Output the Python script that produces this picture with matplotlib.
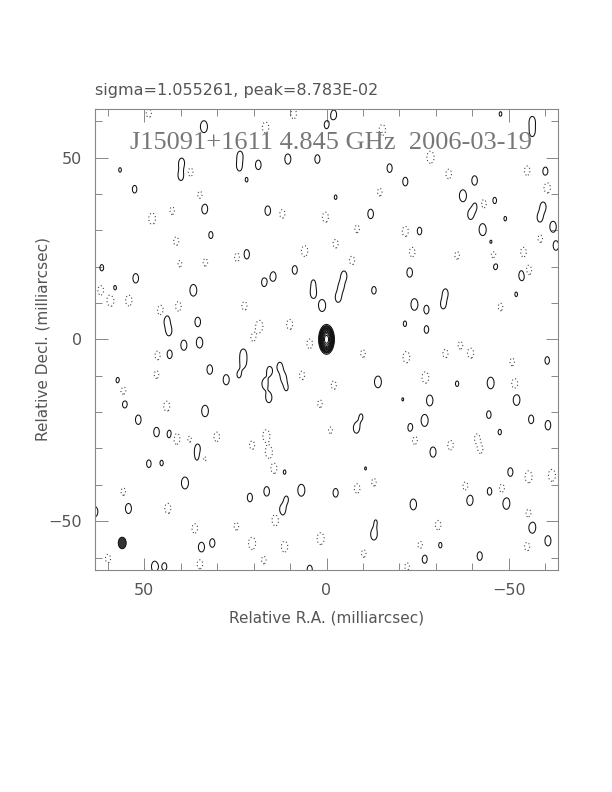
import numpy as np
import matplotlib
matplotlib.use("Agg")
import matplotlib.pyplot as plt
from matplotlib.patches import Ellipse
from matplotlib.ticker import MultipleLocator

# map header values
sigma_txt = "sigma=1.055261, peak=8.783E-02"
source_txt = "J15091+1611 4.845 GHz  2006-03-19"
peak = 87.83          # core peak (contour units)
levels_pos = [1, 2, 2.83, 4, 5.66, 8, 11.3, 16, 22.6, 32, 45.3, 64]
levels_neg = [-1]

# beam (mas): centre, full width / height
beam_xy = (56.0, -56.0)
beam_w, beam_h = 2.2, 3.2

# positive noise blobs (RA mas, Dec mas, relative amplitude)
pos_x = [33.6, 0.0, 23.7, 23.9, 18.7, 10.6, 2.5, 39.7, 39.9, 56.6, 21.9, 52.6, 33.4, 16.1, 31.7,
         21.9, 8.7, 14.6, 17.1, 3.6, 3.6, 1.2, 52.3, 61.6, 58.0, 36.5, 43.8, 43.2, 35.3, 39.1, 34.8,
         -2.0, -56.4, -56.4, -17.3, -21.6, -40.6, -60.0, -37.4, -40.8, -46.1, -39.5,
         -12.1, -59.4, -58.5, -62.1, -62.9, -42.8, -25.5, -22.8, -46.3, -53.6, -4.8, -4.0, -3.2,
         -13.0, -24.1, -27.4, -32.6, -32.0, -21.5, -27.4, -52.0, -49.0, -2.5, -47.7, -45.1,
         43.0, 22.8, 22.8, 15.6, 12.8, 11.8, 32.0, 27.5, 24.0, 16.9, 15.8, 11.0, 57.2, 55.3, 33.3,
         51.6, 46.6, 43.0, 35.4, 32.7, 35.4, 48.7, 45.2, 38.8, 11.5, 16.4, 21.0, 6.9, 11.0, 12.1,
         54.3, 63.5, 31.3, 34.3, 47.1, 44.4, 4.6,
         -14.1, -35.8, -45.0, -52.1, -60.5, -28.3, -20.9, -26.9, -44.5, -56.1, -60.7, -47.5, -9.5,
         -8.2, -23.0, -29.2, -10.7, -50.4, -2.5, -23.8, -39.3, -44.7, -49.3, -56.4, -60.7, -13.0,
         -31.2, -26.9, -42.0, -13.5]
pos_y = [58.5, 59.0, 50.5, 47.5, 48.0, 49.6, 49.6, 48.5, 45.0, 46.6, 43.9, 41.3, 35.9, 35.4, 28.7,
         23.4, 19.1, 17.3, 15.7, 15.6, 12.6, 9.3, 16.8, 19.7, 14.1, 13.5, 5.3, 2.3, 4.8, -1.6, -0.9,
         61.8, 60.0, 57.0, 47.1, 43.4, 43.7, 46.2, 39.5, 36.6, 38.2, 34.3,
         34.5, 36.5, 33.5, 31.0, 25.8, 30.2, 29.8, 18.4, 20.3, 17.6, 17.5, 14.5, 11.5,
         13.5, 9.6, 8.2, 12.7, 9.6, 4.3, 2.7, 12.4, 33.2, 39.1, 62.0, 26.7,
         -4.1, -4.0, -6.5, -8.7, -7.5, -10.5, -8.3, -11.1, -9.7, -12.2, -16.0, -13.4, -11.3, -17.7, -19.7,
         -22.1, -25.5, -26.1, -29.9, -30.2, -32.5, -34.2, -34.0, -39.5, -36.5, -41.8, -43.5, -41.5, -44.0, -47.0,
         -46.5, -47.4, -56.0, -57.2, -62.5, -62.5, -63.3,
         -11.7, -12.2, -12.0, -16.6, -5.8, -16.8, -16.5, -22.3, -20.7, -22.0, -23.6, -25.5, -21.3,
         -24.4, -24.3, -31.0, -35.5, -36.5, -42.2, -45.4, -44.2, -41.8, -45.1, -51.7, -55.4, -53.7,
         -56.6, -60.4, -59.6, -50.2]
pos_a = [1.9, 1.3, 1.45, 1.35, 1.5, 1.6, 1.4, 1.55, 1.5, 1.1, 1.1, 1.3, 1.6, 1.5, 1.25,
         1.5, 1.4, 1.5, 1.4, 1.1, 1.5, 1.9, 1.5, 1.2, 1.15, 1.85, 1.5, 1.5, 1.5, 1.6, 1.7,
         1.5, 1.5, 1.4, 1.4, 1.4, 1.5, 1.4, 1.9, 1.2, 1.2, 1.5,
         1.5, 1.5, 1.45, 1.7, 1.5, 1.9, 1.3, 1.5, 1.4, 1.7, 1.5, 1.4, 1.5,
         1.3, 1.85, 1.4, 1.4, 1.4, 1.15, 1.3, 1.1, 1.1, 1.1, 1.1, 1.1,
         1.4, 1.5, 1.4, 1.45, 1.4, 1.4, 1.5, 1.6, 1.2, 1.55, 1.6, 1.1, 1.2, 1.4, 1.8,
         1.5, 1.5, 1.4, 1.35, 1.15, 1.1, 1.3, 1.15, 1.9, 1.1, 1.5, 1.4, 1.9, 1.2, 1.6,
         1.6, 1.6, 1.4, 1.6, 1.7, 1.3, 1.4,
         1.85, 1.15, 1.85, 1.8, 1.3, 1.7, 1.05, 1.9, 1.3, 1.4, 1.5, 1.15, 1.15,
         1.6, 1.4, 1.6, 1.05, 1.4, 1.4, 1.7, 1.7, 1.3, 1.9, 1.9, 1.6, 1.7,
         1.15, 1.4, 1.4, 1.05]

# negative noise blobs (drawn dotted)
neg_x = [48.7, 16.7, 9.0, 37.3, 47.8, 42.3, 34.7, 12.1, 0.3, 41.2, 6.0, 24.5, 33.2, 40.2, 59.2,
         61.9, 54.2, 45.5, 40.6, 22.5, 18.4, 10.1, 20.1, 4.6,
         -15.3, -28.5, -33.5, -55.0, -60.5, -14.6, -43.1, -21.6, -2.5, -23.5, -35.8, -45.8, -54.0,
         -7.0, -55.4, -58.6, -8.4, -47.7, -36.7,
         46.3, 46.6, 55.7, 43.8, 41.1, 30.1, 37.5, 33.4, 16.5, 15.8, 20.4, 14.4, 6.7, 1.8, 55.7,
         43.5, 36.1, 24.7, 20.4, 14.0, 11.5, 1.6, 59.9, 34.7, 17.2,
         -2.0, -10.0, -21.9, -32.6, -39.5, -27.1, -51.6, -50.9, -24.2, -34.0, -41.3, -42.2, -55.4,
         -61.8, -8.4, -13.0, -38.1, -48.1, -1.1, -30.6, -55.4, -55.0, -10.2, -25.7, -22.1]
neg_y = [62.2, 58.3, 62.0, 46.0, 33.2, 35.4, 39.7, 34.5, 33.6, 27.0, 24.3, 22.6, 21.2, 20.8, 10.7,
         13.5, 10.7, 8.0, 9.1, 9.2, 3.6, 4.1, 0.5, -1.2,
         57.6, 50.1, 45.5, 46.4, 41.7, 40.5, 37.3, 29.7, 26.3, 24.0, 23.1, 23.1, 24.0,
         21.7, 19.0, 27.7, 30.4, 8.9, -1.6,
         -4.4, -9.7, -14.2, -18.4, -27.3, -26.8, -27.5, -32.5, -26.5, -31.0, -29.1, -35.5, -9.9, -17.7, -41.9,
         -46.5, -52.0, -51.4, -56.1, -49.7, -57.0, -54.8, -60.3, -61.8, -60.7,
         -12.6, -3.9, -4.9, -3.9, -3.8, -10.5, -12.2, -6.2, -27.7, -29.1, -27.2, -30.3, -37.8,
         -37.4, -41.0, -39.3, -40.4, -41.0, -25.0, -51.1, -47.9, -57.0, -58.9, -56.6, -62.5]
neg_a = [1.4, 1.7, 1.5, 1.4, 1.8, 1.3, 1.3, 1.4, 1.6, 1.4, 1.7, 1.4, 1.3, 1.2, 1.9,
         1.5, 1.7, 1.6, 1.5, 1.4, 1.9, 1.6, 1.3, 1.5,
         1.7, 1.95, 1.5, 1.5, 1.7, 1.3, 1.4, 1.6, 1.4, 1.5, 1.3, 1.5, 1.5,
         1.4, 1.6, 1.3, 1.3, 1.3, 1.3,
         1.4, 1.3, 1.5, 1.6, 1.8, 1.5, 1.2, 1.4, 1.9, 1.9, 1.4, 1.6, 1.4, 1.3, 1.3,
         1.6, 1.5, 1.3, 1.95, 1.8, 1.7, 1.9, 1.4, 1.5, 1.3,
         1.4, 1.3, 1.8, 1.4, 1.6, 1.8, 1.6, 1.3, 1.4, 1.5, 1.4, 1.3, 1.9,
         1.9, 1.5, 1.3, 1.4, 1.4, 1.2, 1.5, 1.4, 1.4, 1.3, 1.3, 1.3]

# build the map as a sum of beam-shaped gaussians
sx, sy = 2.0 / 2.355, 3.4 / 2.355
g = np.linspace(-64, 64, 641)
X, Y = np.meshgrid(g, g)


def blob(x0, y0, a, fx=1.0, fy=1.0):
    return a * np.exp(-0.5 * (((X - x0) / (sx * fx)) ** 2 + ((Y - y0) / (sy * fy)) ** 2))


Z = blob(0.0, 0.0, peak, 0.85, 0.95)
for x0, y0, a in zip(pos_x, pos_y, pos_a):
    Z += blob(x0, y0, a)
for x0, y0, a in zip(neg_x, neg_y, neg_a):
    Z -= blob(x0, y0, a)

fig = plt.figure(figsize=(6.12, 7.92), dpi=100)
ax = fig.add_axes([0.155, 0.280, 0.757, 0.583])

ax.contour(X, Y, Z, levels=levels_pos, colors="#111111", linewidths=0.75)
ax.contour(X, Y, Z, levels=levels_neg, colors="#444444", linewidths=0.8,
           linestyles=[(0, (1, 2.2))])
ax.add_patch(Ellipse(beam_xy, beam_w, beam_h, facecolor="#333333", edgecolor="black", lw=0.6))

ax.set_xlim(63.5, -63.5)
ax.set_ylim(-63.5, 63.5)
ax.set_aspect("auto")

grey = "#555555"
for sp in ax.spines.values():
    sp.set_color("#888888")
    sp.set_linewidth(0.8)
ax.xaxis.set_major_locator(MultipleLocator(50))
ax.yaxis.set_major_locator(MultipleLocator(50))
ax.xaxis.set_minor_locator(MultipleLocator(10))
ax.yaxis.set_minor_locator(MultipleLocator(10))
ax.tick_params(which="both", direction="in", top=True, right=True, colors="#888888",
               labelcolor=grey, labelsize=11.5, width=0.7)
ax.tick_params(which="major", length=9, pad=9)
ax.tick_params(which="minor", length=5)

ax.set_xlabel("Relative R.A. (milliarcsec)", fontsize=11, color=grey, labelpad=9)
ax.set_ylabel("Relative Decl. (milliarcsec)", fontsize=11, color=grey, labelpad=-1)

ax.text(0.0, 1.022, sigma_txt, transform=ax.transAxes, fontsize=11.5, color=grey,
        ha="left", va="bottom")
ax.text(0.51, 0.925, source_txt, transform=ax.transAxes, fontsize=19, color="#777777",
        family="Liberation Serif", ha="center", va="center")

fig.savefig("out.png", dpi=100)
